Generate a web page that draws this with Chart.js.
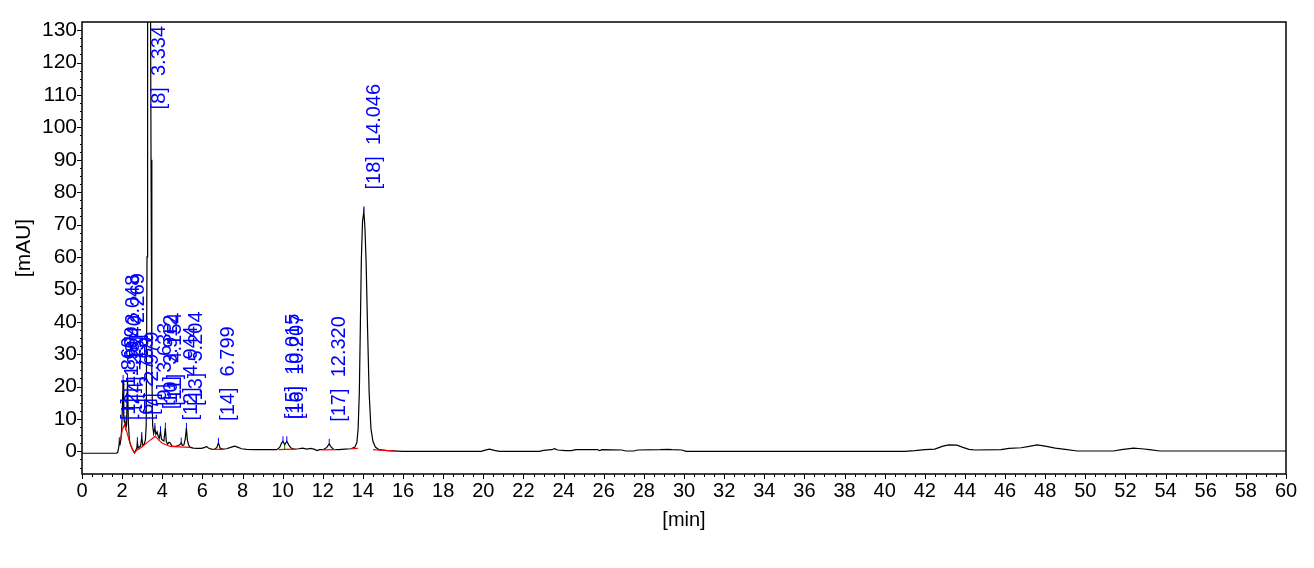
<!DOCTYPE html>
<html>
<head>
<meta charset="utf-8">
<script src="https://cdn.jsdelivr.net/npm/chart.js@4.4.1/dist/chart.umd.min.js"></script>
<style>
  body { margin: 0; background: #fff; }
</style>
</head>
<body>
<canvas id="chart" width="1314" height="568"></canvas>
<script>
// chromatogram signal (min / mAU)
const traceTime = [
  0, 1.72, 1.78, 1.82, 1.86, 1.89, 1.93, 1.969, 2.01, 2.048, 2.08, 2.11, 2.14, 2.18, 2.22, 2.269, 2.31, 2.36, 2.42, 2.48, 2.55, 2.62,
  2.68, 2.73, 2.759, 2.80, 2.86, 2.92, 2.979, 3.03, 3.10, 3.16, 3.20, 3.24, 3.27, 3.30, 3.334, 3.37, 3.40, 3.44, 3.48, 3.52,
  3.57, 3.633, 3.68, 3.74, 3.80, 3.85, 3.912, 3.96, 4.02, 4.08, 4.154, 4.20, 4.27, 4.33, 4.40, 4.47, 4.55, 4.62, 4.70, 4.80, 4.88, 4.944, 5.00, 5.08, 5.15, 5.204, 5.25, 5.32, 5.40,
  5.55, 5.75, 5.95, 6.12, 6.20, 6.30, 6.45, 6.60, 6.72, 6.799, 6.88, 7.00, 7.20, 7.45, 7.60, 7.75, 7.95, 8.20, 8.60, 9.00, 9.40, 9.70, 9.85, 9.95, 10.015, 10.10, 10.207, 10.30, 10.42, 10.55, 10.80, 11.00, 11.20, 11.40, 11.60, 11.70, 11.85, 12.05, 12.20, 12.32, 12.42, 12.55, 12.80, 13.10, 13.40, 13.60,
  13.70, 13.76, 13.82, 13.87, 13.92, 13.98, 14.046, 14.10, 14.16, 14.23, 14.31, 14.40, 14.50, 14.62, 14.80, 15.20, 16.00,
  19.90, 20.05, 20.30, 20.55, 20.80, 22.80, 23.00, 23.40, 23.55, 23.70, 24.10, 24.40, 24.60, 25.70, 25.80, 25.90, 26.90, 27.10, 27.50, 27.70, 28.80, 29.20, 29.40, 29.90, 30.10, 41.00, 41.50, 42.00, 42.50, 42.90, 43.20, 43.60, 43.90, 44.20, 44.50, 45.80, 46.20, 46.80, 47.20, 47.60, 48.00, 48.50, 49.00, 49.60, 51.40, 51.80, 52.40, 52.80, 53.20, 53.70, 60.00
];
const traceMAU = [
  -0.6, -0.6, -0.3, 0.8, 2.8, 1.8, 3.5, 6.0, 13, 22, 11, 9, 9.5, 7.2, 8, 22.5, 9, 3.5, 2.0, 1.0, 0.2, -0.5,
  0.3, 1.0, 2.8, 1.0, 1.4, 1.6, 4.4, 1.8, 2.2, 3.5, 8, 60, 160, 320, 400, 300, 170, 90, 25, 8,
  5.5, 7.2, 5.2, 6.0, 4.6, 4.0, 6.2, 3.8, 3.4, 3.2, 7.3, 3.0, 2.2, 2.8, 2.6, 1.7, 1.5, 1.5, 1.6, 1.8, 2.0, 2.7, 1.8, 2.0, 4.0, 7.2, 3.5, 1.8, 1.2,
  1.0, 0.9, 0.9, 1.2, 1.5, 1.0, 0.7, 0.6, 1.2, 2.6, 1.0, 0.7, 0.8, 1.3, 1.6, 1.3, 0.8, 0.6, 0.5, 0.5, 0.5, 0.5, 1.2, 2.6, 3.1, 2.0, 3.1, 2.0, 1.0, 0.7, 0.8, 1.0, 0.7, 0.9, 0.6, 0.2, 0.5, 0.6, 1.2, 2.3, 1.3, 0.6, 0.5, 0.7, 0.8, 1.3,
  2.8, 7, 18, 38, 59, 71, 74, 69, 58, 38, 18, 7, 3, 1.3, 0.5, 0.2, 0,
  0, 0.3, 0.7, 0.3, 0, 0, 0.3, 0.5, 0.8, 0.4, 0.2, 0.2, 0.5, 0.5, 0.2, 0.5, 0.4, 0.1, 0.1, 0.4, 0.5, 0.6, 0.5, 0.4, 0, 0, 0.2, 0.5, 0.7, 1.6, 2.0, 1.9, 1.2, 0.6, 0.4, 0.5, 0.9, 1.1, 1.5, 2.0, 1.6, 1.0, 0.6, 0.1, 0.1, 0.5, 1.0, 0.8, 0.5, 0.1, 0.1
];

// integration baseline (red), null = gap
const baseTime = [1.93, 2.00, 2.12, 2.25, 2.40, 2.58, 2.62, 2.70, 3.00, 3.30, 3.65, 3.80, 4.00, 4.40, 4.80, 5.40, 5.41, 6.55, 7.05, 7.06, 9.80, 10.60, 10.61, 11.95, 12.65, 12.66, 13.40, 13.75, 13.76, 14.50, 15.60];
const baseMAU  = [3.4, 6.5, 8.3, 5.6, 2.3, -0.2, -0.4, 0.2, 1.4, 3.0, 4.6, 3.6, 2.5, 1.5, 1.4, 1.2, null, 0.6, 0.6, null, 0.5, 0.7, null, 0.45, 0.5, null, 0.8, 0.9, null, 0.5, 0.1];

// drop line between peaks 15 and 16
const dropTime = [10.10, 10.10];
const dropMAU  = [0.6, 2.0];

// peak table
const peakNo   = [1, 2, 3, 4, 5, 6, 7, 8, 9, 10, 11, 12, 13, 14, 15, 16, 17, 18];
const peakTime = [1.86, 1.969, 2.048, 2.14, 2.269, 2.759, 2.979, 3.334, 3.633, 3.912, 4.154, 4.944, 5.204, 6.799, 10.015, 10.207, 12.32, 14.046];

const xTickValues = [0, 2, 4, 6, 8, 10, 12, 14, 16, 18, 20, 22, 24, 26, 28, 30, 32, 34, 36, 38, 40, 42, 44, 46, 48, 50, 52, 54, 56, 58, 60];
const yTickValues = [0, 10, 20, 30, 40, 50, 60, 70, 80, 90, 100, 110, 120, 130];

const toPoints = (xs, ys) => xs.map((v, i) => ({ x: v, y: ys[i] }));

Chart.defaults.font.family = 'Arial, "Liberation Sans", sans-serif';
Chart.defaults.color = '#000';

const decor = {
  id: 'decor',
  afterDraw(chart) {
    const { ctx, chartArea: a, scales: { x, y } } = chart;
    ctx.save();
    ctx.strokeStyle = '#000';
    ctx.lineWidth = 1.5;
    ctx.strokeRect(a.left, a.top, a.right - a.left, a.bottom - a.top);

    // major + minor ticks outside the frame
    ctx.lineWidth = 1;
    ctx.beginPath();
    for (let v = 0; v <= 60.001; v += 0.5) {
      const px = Math.round(x.getPixelForValue(v)) + 0.5;
      const len = Math.abs(v % 2) < 1e-6 ? 5 : 3;
      ctx.moveTo(px, a.bottom);
      ctx.lineTo(px, a.bottom + len);
    }
    for (let v = -5; v <= 130.001; v += 2.5) {
      const py = Math.round(y.getPixelForValue(v)) + 0.5;
      const len = Math.abs(v % 10) < 1e-6 ? 5 : 2;
      ctx.moveTo(a.left - len, py);
      ctx.lineTo(a.left, py);
    }
    ctx.stroke();

    // peak marks and labels
    ctx.beginPath();
    ctx.rect(a.left, a.top, a.right - a.left, a.bottom - a.top);
    ctx.clip();
    ctx.font = '20px Arial, "Liberation Sans", sans-serif';
    ctx.fillStyle = '#0000ff';
    ctx.strokeStyle = '#0000ff';
    const zeroPx = y.getPixelForValue(0);
    peakTime.forEach((t, i) => {
      const h = traceMAU[traceTime.indexOf(t)];
      const px = x.getPixelForValue(t);
      const py = y.getPixelForValue(h);
      ctx.beginPath();
      ctx.moveTo(px, py);
      ctx.lineTo(px, py - 5);
      ctx.stroke();
      const txt = '[' + peakNo[i] + ']  ' + t.toFixed(3);
      const w = ctx.measureText(txt).width;
      let base = Math.min(py - 22, zeroPx - 29.5);
      // off-scale peaks: label pinned so it just runs into the top frame
      if (base - w < a.top) base = a.top + w + 4;
      ctx.save();
      ctx.translate(px + 16, base);
      ctx.rotate(-Math.PI / 2);
      ctx.textAlign = 'left';
      ctx.textBaseline = 'alphabetic';
      ctx.fillText(txt, 0, 0);
      ctx.restore();
    });
    ctx.restore();
  }
};

new Chart(document.getElementById('chart').getContext('2d'), {
  type: 'line',
  data: {
    datasets: [
      { data: toPoints(dropTime, dropMAU), borderColor: '#008000', borderWidth: 1, pointRadius: 0 },
      { data: toPoints(baseTime, baseMAU), borderColor: '#ff0000', borderWidth: 1.2, pointRadius: 0, spanGaps: false },
      { data: toPoints(traceTime, traceMAU), borderColor: '#000', borderWidth: 1.2, pointRadius: 0 }
    ]
  },
  options: {
    responsive: false,
    animation: false,
    events: [],
    layout: { padding: { top: 22, right: 28, left: 0, bottom: 0 } },
    plugins: { legend: { display: false }, tooltip: { enabled: false } },
    scales: {
      x: {
        type: 'linear', min: 0, max: 60,
        afterBuildTicks: s => { s.ticks = xTickValues.map(v => ({ value: v })); },
        afterFit: s => { s.height = 94; },
        ticks: { font: { size: 20 }, color: '#000', padding: 5, autoSkip: false, maxRotation: 0 },
        grid: { display: false, drawTicks: false },
        border: { display: false },
        title: { display: true, text: '[min]', font: { size: 20 }, color: '#000', padding: { top: 0, bottom: 36 } }
      },
      y: {
        type: 'linear', min: -7, max: 132.5,
        afterBuildTicks: s => { s.ticks = yTickValues.map(v => ({ value: v })); },
        afterFit: s => { s.width = 82; },
        ticks: { font: { size: 21 }, color: '#000', padding: 5 },
        grid: { display: false, drawTicks: false },
        border: { display: false },
        title: { display: true, text: '[mAU]', font: { size: 21 }, color: '#000', padding: { top: 12, bottom: 0 } }
      }
    }
  },
  plugins: [decor]
});
</script>
</body>
</html>
